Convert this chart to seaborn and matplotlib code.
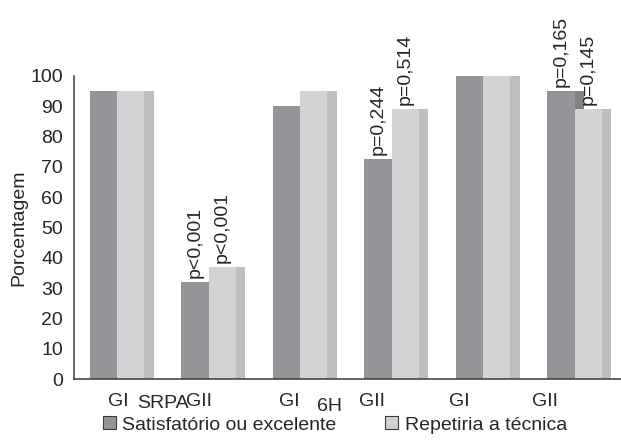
import pandas as pd
import matplotlib.pyplot as plt
import seaborn as sns
from matplotlib.patches import Patch

# data
grupos = ['SRPA GI', 'SRPA GII', '6H GI', '6H GII', 'X GI', 'X GII']
rotulos = ['GI', 'GII', 'GI', 'GII', 'GI', 'GII']
satisfatorio = [95, 32, 90, 72.5, 100, 95]
repetiria = [95, 37, 95, 89, 100, 89]
p_satisf = [None, 'p<0,001', None, 'p=0,244', None, 'p=0,165']
p_repet = [None, 'p<0,001', None, 'p=0,514', None, 'p=0,145']
series = ['Satisfatório ou excelente', 'Repetiria a técnica']

# label positions drift left of the bars in the original
pos_rotulos = [0.01, 0.90, 1.88, 2.79, 3.74, 4.68]

df = pd.DataFrame({
    'grupo': grupos * 2,
    'valor': satisfatorio + repetiria,
    'serie': [series[0]] * 6 + [series[1]] * 6,
})

escuro = '#939598'
claro = '#d1d3d4'
lado_escuro = '#818386'
lado_claro = '#bcbec0'
eixo = '#3a3a3a'
fs = 14

sns.set_style('white')
plt.rcParams['font.family'] = ['Liberation Sans', 'DejaVu Sans']

fig = plt.figure(figsize=(6.21, 4.40), dpi=100)
ax = fig.add_axes([74 / 621, 61 / 440, 549 / 621, 303 / 440])

sns.barplot(data=df, x='grupo', y='valor', hue='serie', order=grupos,
            hue_order=series, palette=[escuro, claro], width=0.6, gap=0,
            saturation=1, edgecolor='none', linewidth=0, legend=False, ax=ax)

# side strips give the bars their flat 3D look
prof = 0.1
for cont, cor, z in zip(ax.containers, [lado_escuro, lado_claro], [0.5, 1]):
    for b in cont:
        ax.bar(b.get_x() + b.get_width(), b.get_height(), width=prof,
               align='edge', color=cor, linewidth=0, zorder=z)

# p-values above the GII bars
for cont, textos in zip(ax.containers[:2], [p_satisf, p_repet]):
    for b, t in zip(cont, textos):
        if t:
            ax.annotate(t, (b.get_x() + b.get_width() / 2, b.get_height()),
                        xytext=(0, 3), textcoords='offset points',
                        rotation=90, ha='center', va='bottom', fontsize=fs)

shift = 0.03
ax.set_xlim(-0.5 + shift, 5.5 + shift)
ax.set_ylim(0, 100)
ax.set_yticks(range(0, 101, 10))
ax.set_xticks([i + 0.5 + shift for i in range(6)])
ax.set_xticklabels([])
ax.set_xticks(pos_rotulos, minor=True)
ax.set_xticklabels(rotulos, minor=True)
ax.tick_params(axis='x', which='minor', length=0, pad=10, labelsize=fs)
ax.tick_params(axis='both', which='major', length=5, width=1.1,
               color=eixo, direction='out', labelsize=fs)
ax.tick_params(axis='y', pad=3)
ax.set_xlabel('')
ax.set_ylabel('Porcentagem', fontsize=fs, labelpad=2)

sns.despine(ax=ax)
for s in ['left', 'bottom']:
    ax.spines[s].set_color(eixo)
    ax.spines[s].set_linewidth(1.1)

# group labels under the axis
fig.text(163 / 621, 1 - 403 / 440, 'SRPA', ha='center', va='center', fontsize=fs)
fig.text(330 / 621, 1 - 406 / 440, '6H', ha='center', va='center', fontsize=fs)

handles = [Patch(facecolor=escuro, edgecolor=eixo, linewidth=0.8),
           Patch(facecolor=claro, edgecolor=eixo, linewidth=0.8)]
fig.legend(handles, series, loc='center', bbox_to_anchor=(335 / 621, 1 - 425 / 440),
           ncol=2, frameon=False, fontsize=fs, handlelength=0.65,
           handleheight=0.65, handletextpad=0.35, columnspacing=2.5,
           borderpad=0, borderaxespad=0)

fig.savefig('out.png', dpi=100)
